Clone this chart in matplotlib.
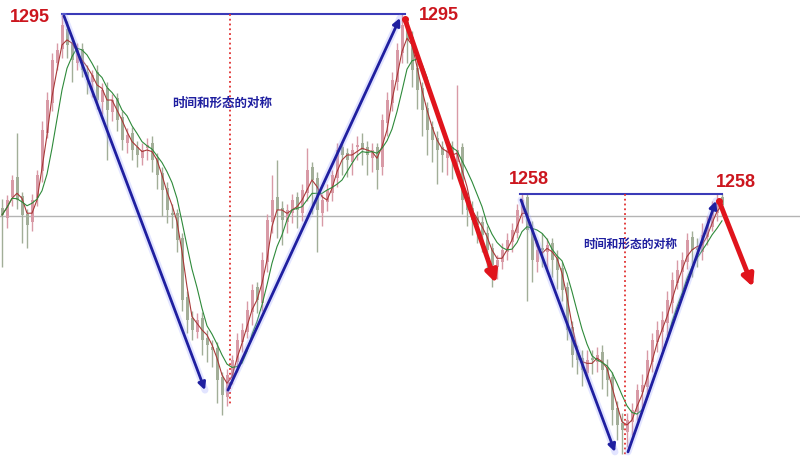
import matplotlib.pyplot as plt
import pandas as pd

plt.rcParams['font.family'] = ['Noto Sans CJK SC', 'DejaVu Sans']

# candle data, one candle every 5 px
opens = [1255.2, 1253.0, 1257.5, 1261.5, 1257.6, 1254.0, 1252.3, 1257.2, 1262.8, 1270.5,
         1276.8, 1285.0, 1287.9, 1292.0, 1289.2, 1285.0, 1287.9, 1283.0, 1281.0, 1283.1,
         1276.9, 1279.8, 1274.8, 1277.7, 1273.8, 1268.6, 1270.6, 1267.6, 1265.5, 1267.5,
         1268.6, 1265.4, 1262.3, 1259.2, 1254.2, 1254.2, 1249.0, 1236.8, 1232.6, 1229.6,
         1232.6, 1228.5, 1226.5, 1226.4, 1220.3, 1216.2, 1220.3, 1223.4, 1227.5, 1229.6,
         1233.7, 1238.8, 1235.7, 1244.0, 1252.2, 1257.3, 1255.2, 1252.2, 1254.2, 1257.3,
         1254.2, 1258.3, 1263.5, 1261.4, 1254.2, 1256.3, 1258.3, 1261.4, 1267.6, 1266.5,
         1264.5, 1267.6, 1268.6, 1267.6, 1265.5, 1267.6, 1263.5, 1272.7, 1276.8, 1281.0,
         1287.1, 1293.3, 1290.2, 1284.0, 1279.9, 1275.8, 1271.7, 1269.6, 1267.6, 1265.5,
         1267.6, 1264.5, 1267.6, 1257.3, 1255.2, 1253.2, 1252.2, 1250.1, 1247.0, 1243.0,
         1244.0, 1246.0, 1248.1, 1250.1, 1254.2, 1257.3, 1251.1, 1244.0, 1247.0, 1246.0,
         1248.0, 1245.0, 1242.9, 1238.8, 1230.6, 1225.5, 1224.4, 1221.3, 1224.4, 1223.4,
         1225.5, 1222.3, 1220.3, 1214.1, 1211.0, 1209.0, 1211.1, 1213.1, 1217.3, 1218.3,
         1223.4, 1227.5, 1229.6, 1231.6, 1235.7, 1239.8, 1241.9, 1244.0, 1249.1, 1247.0,
         1246.0, 1249.1, 1251.2, 1254.2, 1257.3]
closes = [1253.7, 1256.8, 1260.9, 1256.8, 1253.7, 1251.7, 1256.8, 1261.9, 1271.2, 1277.3,
          1285.6, 1287.6, 1292.8, 1288.7, 1285.6, 1287.6, 1283.5, 1281.5, 1282.5, 1277.3,
          1279.4, 1275.3, 1277.3, 1273.2, 1269.1, 1270.2, 1267.1, 1266.0, 1267.1, 1268.1,
          1265.0, 1261.9, 1258.8, 1254.7, 1253.7, 1248.6, 1236.2, 1232.1, 1230.1, 1232.1,
          1228.0, 1227.0, 1226.0, 1219.8, 1216.7, 1220.8, 1223.9, 1228.0, 1230.1, 1234.2,
          1238.3, 1236.2, 1244.5, 1252.7, 1256.8, 1254.7, 1252.7, 1254.7, 1256.8, 1254.7,
          1258.8, 1263.0, 1260.9, 1254.7, 1256.8, 1258.8, 1261.9, 1267.1, 1266.0, 1265.0,
          1267.1, 1268.1, 1267.1, 1266.0, 1267.1, 1263.0, 1273.2, 1277.3, 1281.5, 1287.6,
          1292.8, 1289.7, 1283.5, 1279.4, 1275.3, 1271.2, 1269.1, 1267.1, 1266.0, 1267.1,
          1265.0, 1267.1, 1256.8, 1254.7, 1252.7, 1251.7, 1249.6, 1246.5, 1243.4, 1244.5,
          1246.5, 1248.6, 1250.6, 1254.7, 1256.8, 1250.6, 1244.5, 1246.5, 1246.5, 1247.5,
          1244.5, 1242.4, 1238.3, 1230.1, 1225.0, 1223.9, 1221.8, 1223.9, 1223.9, 1225.0,
          1221.8, 1219.8, 1213.6, 1210.5, 1209.5, 1211.6, 1213.6, 1217.8, 1218.8, 1223.9,
          1228.0, 1230.1, 1232.1, 1236.2, 1240.3, 1242.4, 1244.5, 1248.6, 1246.5, 1246.5,
          1249.6, 1251.7, 1254.7, 1256.8, 1255.7]
highs = [1257.0, 1257.8, 1262.0, 1270.5, 1258.5, 1255.0, 1258.0, 1263.0, 1273.0, 1279.0,
         1287.0, 1289.0, 1295.0, 1293.5, 1290.5, 1289.0, 1289.0, 1284.5, 1283.5, 1284.5,
         1280.8, 1281.0, 1278.5, 1278.8, 1275.0, 1271.5, 1271.8, 1269.0, 1268.5, 1269.5,
         1270.0, 1266.5, 1263.5, 1260.5, 1256.0, 1255.0, 1250.0, 1238.0, 1234.0, 1233.5,
         1233.8, 1230.0, 1228.0, 1227.5, 1221.5, 1222.0, 1225.0, 1229.5, 1231.5, 1236.0,
         1239.5, 1240.0, 1246.0, 1254.0, 1262.0, 1265.0, 1256.5, 1256.0, 1258.0, 1258.5,
         1260.0, 1267.5, 1264.5, 1262.5, 1258.0, 1260.0, 1263.0, 1268.5, 1268.5, 1267.5,
         1268.5, 1270.0, 1270.5, 1269.0, 1268.5, 1268.5, 1274.5, 1279.0, 1283.0, 1289.0,
         1295.0, 1294.5, 1291.5, 1285.5, 1281.0, 1277.0, 1273.0, 1271.0, 1269.0, 1269.0,
         1269.0, 1280.5, 1268.5, 1258.5, 1256.5, 1254.5, 1253.5, 1251.5, 1248.0, 1245.5,
         1248.0, 1250.0, 1252.0, 1256.0, 1258.0, 1258.0, 1252.5, 1248.5, 1250.0, 1249.0,
         1249.0, 1246.5, 1244.0, 1240.0, 1232.0, 1227.0, 1226.0, 1226.0, 1226.0, 1226.5,
         1227.0, 1224.0, 1221.5, 1215.5, 1213.0, 1213.0, 1215.0, 1219.0, 1221.0, 1226.0,
         1229.5, 1232.0, 1234.0, 1238.0, 1242.0, 1244.5, 1246.0, 1250.0, 1250.5, 1249.0,
         1252.0, 1253.5, 1256.5, 1258.0, 1258.0]
lows = [1243.0, 1251.0, 1255.5, 1255.0, 1248.0, 1247.0, 1250.5, 1255.5, 1260.5, 1269.5,
        1275.0, 1283.5, 1286.0, 1286.0, 1281.0, 1283.5, 1282.0, 1278.5, 1278.0, 1275.5,
        1274.5, 1265.0, 1273.0, 1271.0, 1267.0, 1266.5, 1265.0, 1263.5, 1264.0, 1265.0,
        1262.5, 1259.0, 1253.5, 1252.0, 1251.0, 1246.0, 1234.0, 1229.5, 1228.0, 1228.5,
        1225.0, 1223.5, 1222.5, 1215.0, 1212.5, 1214.5, 1219.0, 1221.5, 1225.5, 1228.5,
        1231.0, 1233.5, 1234.0, 1242.0, 1250.0, 1249.0, 1247.5, 1250.0, 1252.0, 1251.0,
        1252.5, 1256.5, 1254.0, 1246.0, 1251.5, 1254.5, 1256.5, 1259.5, 1262.0, 1261.5,
        1262.0, 1265.0, 1264.0, 1262.0, 1262.5, 1259.0, 1262.0, 1270.0, 1275.0, 1279.5,
        1285.0, 1285.0, 1280.0, 1275.5, 1270.0, 1266.0, 1264.5, 1260.0, 1262.5, 1262.0,
        1261.0, 1262.5, 1254.0, 1251.5, 1249.5, 1248.0, 1246.0, 1242.5, 1239.0, 1240.5,
        1242.5, 1244.5, 1246.0, 1249.0, 1252.0, 1236.0, 1240.0, 1242.0, 1243.0, 1242.5,
        1241.0, 1238.5, 1236.0, 1228.0, 1222.5, 1221.0, 1218.5, 1220.0, 1221.0, 1221.5,
        1218.0, 1216.5, 1210.5, 1207.5, 1204.5, 1206.0, 1208.5, 1211.5, 1214.0, 1216.5,
        1221.5, 1225.5, 1226.0, 1229.0, 1233.5, 1238.5, 1238.0, 1242.5, 1241.0, 1243.0,
        1244.5, 1247.5, 1250.5, 1252.5, 1253.5]

peak_labels = ['1295', '1295', '1258', '1258']
note_text = '时间和形态的对称'

df = pd.DataFrame({'open': opens, 'close': closes, 'high': highs, 'low': lows})
df['x'] = df.index * 5 + 2
df['ma5'] = df['close'].rolling(3, min_periods=1).mean()
df['ma10'] = df['close'].rolling(6, min_periods=1).mean()

fig = plt.figure(figsize=(8, 4.66), dpi=100)
ax = fig.add_axes([0, 0, 1, 1])
ax.set_xlim(0, 800)
ax.set_ylim(1202.1, 1297.9)
ax.axis('off')

# reference level
ax.axhline(1253.5, color='#b4b4b4', lw=1, zorder=1)

up = df['close'] >= df['open']
colors = ['#d89aa6' if u else '#a2ae98' for u in up]
ax.vlines(df['x'], df['low'], df['high'], colors=colors, lw=1, zorder=2)
ax.bar(df['x'], (df['close'] - df['open']).abs(), bottom=df[['open', 'close']].min(axis=1),
       width=3, color=colors, zorder=2)
ax.plot(df['x'], df['ma5'], color='#a83838', lw=0.8, zorder=3)
ax.plot(df['x'], df['ma10'], color='#2e8a3a', lw=0.8, zorder=3)

blue = '#1f1fa0'
red = '#e0141c'

# symmetric tops
ax.plot([62, 405], [1295.0, 1295.0], color='#3a3ab8', lw=1.5, zorder=4)
ax.plot([520, 722], [1258.0, 1258.0], color='#3a3ab8', lw=1.5, zorder=4)
ax.plot([230, 230], [1295.0, 1214.7], color='#e03030', ls=':', lw=1.3, zorder=4)
ax.plot([625, 625], [1258.0, 1204.4], color='#e03030', ls=':', lw=1.3, zorder=4)

blue_legs = [((64, 1294.6), (205, 1217.7)), ((228, 1217.7), (400, 1294.2)),
             ((521, 1256.8), (615, 1205.0)), ((628, 1205.0), (716, 1256.6))]
for start, end in blue_legs:
    ax.plot([start[0], end[0]], [start[1], end[1]], color='#9fa8ff', lw=5, alpha=0.3,
            solid_capstyle='round', zorder=4)
    ax.annotate('', xy=end, xytext=start,
                arrowprops=dict(arrowstyle='-|>', color=blue, lw=2.0, mutation_scale=11,
                                shrinkA=0, shrinkB=0), zorder=5)

red_legs = [((405, 1293.9), (496, 1239.7)), ((719, 1256.6), (753, 1238.9))]
for start, end in red_legs:
    ax.annotate('', xy=end, xytext=start,
                arrowprops=dict(arrowstyle='-|>', color=red, lw=3.5, mutation_scale=17,
                                shrinkA=0, shrinkB=0), zorder=6)
    ax.plot(start[0], start[1], 'o', color=red, ms=4, zorder=6)

label_pos = [(30, 1294.2), (439, 1294.8), (529, 1260.9), (736, 1260.3)]
for (lx, ly), txt in zip(label_pos, peak_labels):
    ax.text(lx, ly, txt, color='#cc161e', fontsize=13, fontweight='bold',
            family=['Liberation Sans', 'DejaVu Sans'], ha='center', va='center', zorder=7)

ax.text(222, 1276.7, note_text, color=blue, fontsize=9, fontweight='bold',
        ha='center', va='center', zorder=7)
ax.text(630, 1247.7, note_text, color=blue, fontsize=8.5, fontweight='bold',
        ha='center', va='center', zorder=7)

plt.savefig('out.png', dpi=100)
